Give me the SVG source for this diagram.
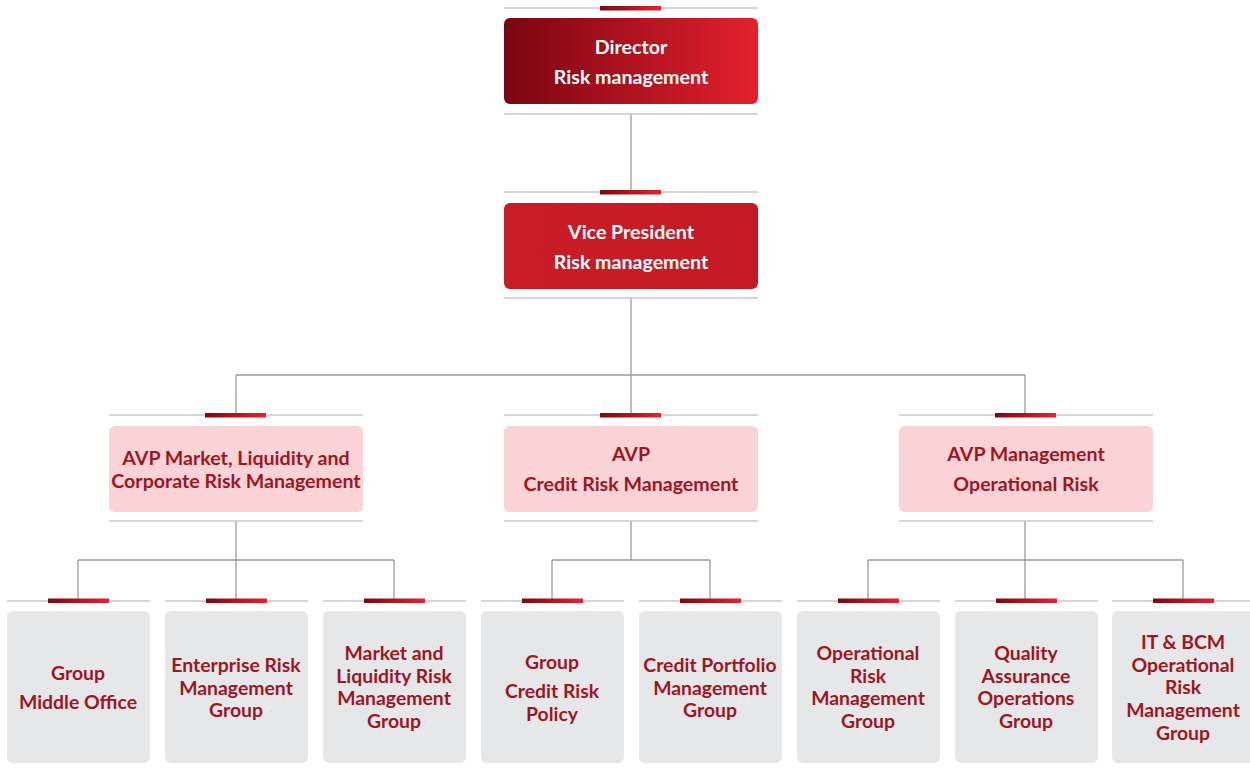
<svg xmlns="http://www.w3.org/2000/svg" width="1250" height="769" viewBox="0 0 1250 769">
<defs>
<linearGradient id="gDir" x1="0" x2="1" y1="0" y2="0"><stop offset="0" stop-color="#7a0510"/><stop offset="1" stop-color="#e4202e"/></linearGradient>
<linearGradient id="gVP" x1="0" x2="1" y1="0" y2="0"><stop offset="0" stop-color="#c91c27"/><stop offset="1" stop-color="#c51a25"/></linearGradient>
<linearGradient id="gBar" x1="0" x2="1" y1="0" y2="0"><stop offset="0" stop-color="#7d0811"/><stop offset="1" stop-color="#e52330"/></linearGradient>
<style>
.rule{stroke:#c8c8ca;stroke-width:1.6;fill:none}
.conn{stroke:#9a9a9a;stroke-width:1.3;fill:none}
.bar{fill:url(#gBar)}
.tw{font-family:Lato,"Liberation Sans",sans-serif;font-weight:bold;font-size:19.6px;fill:#ffffff;text-anchor:middle}
.tr{font-family:Lato,"Liberation Sans",sans-serif;font-weight:bold;font-size:19.6px;fill:#9e1624;text-anchor:middle}
.tl{font-family:Lato,"Liberation Sans",sans-serif;font-weight:bold;font-size:19.4px;fill:#9e1624;text-anchor:middle}
.avp{fill:#f9d3d5}
.leaf{fill:#e6e7e8}
</style>
</defs>
<g id="connectors">
<path class="conn" d="M631 114V192M631 298V415M236 375H1025M236 375V415M1025 375V415"/>
<path class="conn" d="M236 521V600M78 560H394M78 560V600M394 560V600"/>
<path class="conn" d="M631 521V560M552 560H710M552 560V600M710 560V600"/>
<path class="conn" d="M1025 521V600M868 560H1183M868 560V600M1183 560V600"/>
</g>
<g id="director">
<path class="rule" d="M504 8H758M504 114H758"/>
<rect class="bar" x="600" y="6" width="61" height="4.5"/>
<rect x="504" y="18" width="254" height="86" rx="6" fill="url(#gDir)"/>
<text class="tw" x="631" y="54">Director</text>
<text class="tw" x="631" y="84">Risk management</text>
</g>
<g id="vp">
<path class="rule" d="M504 192H758M504 298H758"/>
<rect class="bar" x="600" y="190" width="61" height="4.5"/>
<rect x="504" y="203" width="254" height="86" rx="6" fill="url(#gVP)"/>
<text class="tw" x="631" y="239">Vice President</text>
<text class="tw" x="631" y="269">Risk management</text>
</g>
<g id="avp-market">
<path class="rule" d="M109 415H363M109 521H363"/>
<rect class="bar" x="205" y="413" width="61" height="4.5"/>
<rect class="avp" x="109" y="426" width="254" height="86" rx="6"/>
<text class="tr" x="236" y="465">AVP Market, Liquidity and</text>
<text class="tr" x="236" y="488">Corporate Risk Management</text>
</g>
<g id="avp-credit">
<path class="rule" d="M504 415H758M504 521H758"/>
<rect class="bar" x="600" y="413" width="61" height="4.5"/>
<rect class="avp" x="504" y="426" width="254" height="86" rx="6"/>
<text class="tr" x="631" y="461">AVP</text>
<text class="tr" x="631" y="491">Credit Risk Management</text>
</g>
<g id="avp-operational">
<path class="rule" d="M899 415H1153M899 521H1153"/>
<rect class="bar" x="995" y="413" width="61" height="4.5"/>
<rect class="avp" x="899" y="426" width="254" height="86" rx="6"/>
<text class="tr" x="1026" y="461">AVP Management</text>
<text class="tr" x="1026" y="491">Operational Risk</text>
</g>
<g id="leaf1">
<path class="rule" d="M7 601H150"/>
<rect class="bar" x="48" y="598.5" width="61" height="4.5"/>
<rect class="leaf" x="7" y="611" width="143" height="152" rx="6"/>
<text class="tl" x="78" y="680">Group</text>
<text class="tl" x="78" y="709">Middle Office</text>
</g>
<g id="leaf2">
<path class="rule" d="M165 601H308"/>
<rect class="bar" x="206" y="598.5" width="61" height="4.5"/>
<rect class="leaf" x="165" y="611" width="143" height="152" rx="6"/>
<text class="tl" x="236" y="672">Enterprise Risk</text>
<text class="tl" x="236" y="695">Management</text>
<text class="tl" x="236" y="717">Group</text>
</g>
<g id="leaf3">
<path class="rule" d="M323 601H466"/>
<rect class="bar" x="364" y="598.5" width="61" height="4.5"/>
<rect class="leaf" x="323" y="611" width="143" height="152" rx="6"/>
<text class="tl" x="394" y="660">Market and</text>
<text class="tl" x="394" y="683">Liquidity Risk</text>
<text class="tl" x="394" y="705">Management</text>
<text class="tl" x="394" y="728">Group</text>
</g>
<g id="leaf4">
<path class="rule" d="M481 601H624"/>
<rect class="bar" x="522" y="598.5" width="61" height="4.5"/>
<rect class="leaf" x="481" y="611" width="143" height="152" rx="6"/>
<text class="tl" x="552" y="669">Group</text>
<text class="tl" x="552" y="698">Credit Risk</text>
<text class="tl" x="552" y="721">Policy</text>
</g>
<g id="leaf5">
<path class="rule" d="M639 601H782"/>
<rect class="bar" x="680" y="598.5" width="61" height="4.5"/>
<rect class="leaf" x="639" y="611" width="143" height="152" rx="6"/>
<text class="tl" x="710" y="672">Credit Portfolio</text>
<text class="tl" x="710" y="695">Management</text>
<text class="tl" x="710" y="717">Group</text>
</g>
<g id="leaf6">
<path class="rule" d="M797 601H940"/>
<rect class="bar" x="838" y="598.5" width="61" height="4.5"/>
<rect class="leaf" x="797" y="611" width="143" height="152" rx="6"/>
<text class="tl" x="868" y="660">Operational</text>
<text class="tl" x="868" y="683">Risk</text>
<text class="tl" x="868" y="705">Management</text>
<text class="tl" x="868" y="728">Group</text>
</g>
<g id="leaf7">
<path class="rule" d="M955 601H1098"/>
<rect class="bar" x="996" y="598.5" width="61" height="4.5"/>
<rect class="leaf" x="955" y="611" width="143" height="152" rx="6"/>
<text class="tl" x="1026" y="660">Quality</text>
<text class="tl" x="1026" y="683">Assurance</text>
<text class="tl" x="1026" y="705">Operations</text>
<text class="tl" x="1026" y="728">Group</text>
</g>
<g id="leaf8">
<path class="rule" d="M1112 601H1250"/>
<rect class="bar" x="1153" y="598.5" width="61" height="4.5"/>
<rect class="leaf" x="1112" y="611" width="143" height="152" rx="6"/>
<text class="tl" x="1183" y="649">IT &amp; BCM</text>
<text class="tl" x="1183" y="672">Operational</text>
<text class="tl" x="1183" y="694">Risk</text>
<text class="tl" x="1183" y="717">Management</text>
<text class="tl" x="1183" y="740">Group</text>
</g>
</svg>
